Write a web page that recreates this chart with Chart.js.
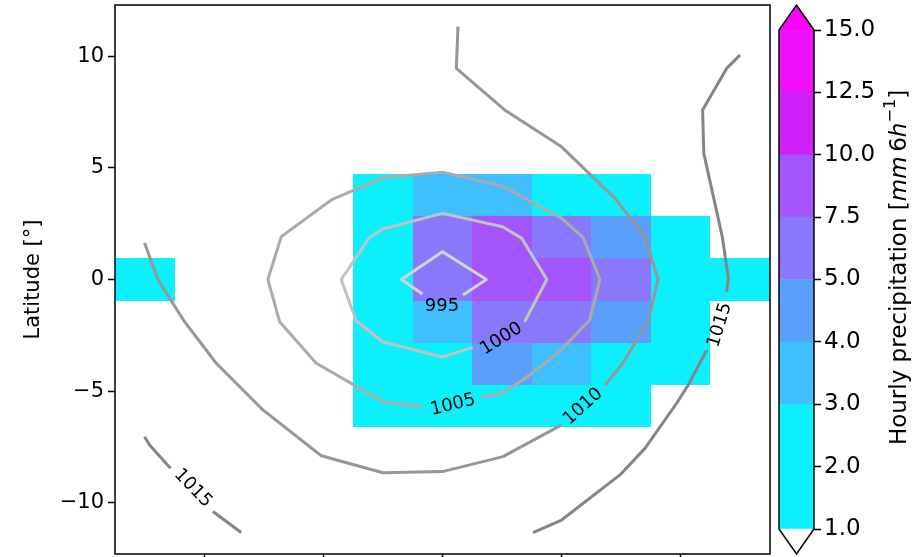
<!DOCTYPE html>
<html>
<head>
<meta charset="utf-8">
<script src="https://cdn.jsdelivr.net/npm/chart.js@4.4.1/dist/chart.umd.min.js"></script>
<style>
  body { margin: 0; background: #fff; }
  #wrap { position: relative; width: 916px; height: 557px; overflow: hidden; }
  #map { position: absolute; left: 0; top: 0; }
  #cbar { position: absolute; left: 770px; top: 0; }
</style>
</head>
<body>
<div id="wrap">
  <canvas id="map" width="916" height="557"></canvas>
  <canvas id="cbar" width="146" height="557"></canvas>
</div>
<script>
// precipitation grid (mm per 6h), cell centres
const lonCenters = [-12.5, -10, -7.5, -5, -2.5, 0, 2.5, 5, 7.5, 10, 12.5];
const latCenters = [3.77, 1.885, 0, -1.885, -3.77, -5.655];
const lonStep = 2.5;
const latStep = 1.885;
const precipRows = [
  [0,   0, 0, 0, 2.2, 3.5, 3.4, 2.6, 1.8, 0,   0  ],
  [0,   0, 0, 0, 2.0, 6.1, 8.3, 6.4, 4.4, 1.9, 0  ],
  [1.6, 0, 0, 0, 2.1, 6.3, 8.8, 8.1, 6.0, 2.3, 1.5],
  [0,   0, 0, 0, 1.9, 3.6, 6.2, 5.9, 4.3, 2.0, 0  ],
  [0,   0, 0, 0, 1.7, 2.2, 4.5, 3.4, 2.4, 1.6, 0  ],
  [0,   0, 0, 0, 1.4, 1.8, 2.1, 1.9, 1.3, 0,   0  ]
];

// colour levels of the precipitation field
const levels = [1, 2, 3, 4, 5, 7.5, 10, 12.5, 15];
const levelColors = ['#0cf0fc', '#0cf0fc', '#3fbffd', '#5a9ffa', '#8a78fb', '#a354fb', '#d021fb', '#ef10fc'];
const overColor = '#ff00ff';

// axis ticks
const lonTicks = [-10, -5, 0, 5, 10];
const latTicks = [-10, -5, 0, 5, 10];

// sea level pressure isobars [lon, lat], split where the labels sit
const isobar995 = [
  [[-0.84, -0.65], [-1.73, 0], [0, 1.24], [1.84, 0], [0.86, -0.69]]
];
const isobar1000 = [
  [[3.45, -1.89], [4.38, 0], [3.33, 1.84], [2.52, 2.36], [0, 2.96], [-2.5, 2.26], [-3.06, 1.89],
   [-4.25, 0], [-3.62, -1.86], [-2.5, -2.8], [0, -3.47], [1.27, -3.04]]
];
const isobar1005 = [
  [[1.63, -5.27], [2.52, -5.07], [3.38, -4.5], [4.84, -3.3], [6.18, -1.81], [6.61, 0], [5.9, 1.89],
   [5.0, 2.74], [2.47, 4.2], [0, 4.8], [-2.46, 4.57], [-4.67, 3.56], [-6.77, 1.92], [-7.33, 0],
   [-6.84, -1.89], [-5.3, -3.75], [-2.5, -5.47], [-0.82, -5.69]]
];
const isobar1010 = [
  [[0.65, 11.32], [0.58, 9.45], [2.61, 7.59], [5.0, 5.94], [7.24, 3.63], [8.5, 1.92], [9.05, 0],
   [8.63, -1.89], [7.52, -3.83], [6.82, -4.72]],
  [[5.0, -6.51], [2.54, -7.93], [0, -8.6], [-2.5, -8.65], [-5.09, -7.89], [-7.54, -5.84],
   [-9.5, -3.75], [-10.83, -1.89], [-11.95, 0], [-12.51, 1.65]]
];
const isobar1015 = [
  [[12.49, 10.05], [11.93, 9.45], [10.92, 7.59], [10.97, 5.65], [11.75, 1.9], [12.0, 0.05], [11.93, -0.55]],
  [[11.09, -3.16], [10.32, -4.72], [9.83, -5.54], [8.5, -7.56], [7.45, -8.75], [5.0, -10.77], [3.8, -11.33]],
  [[-12.51, -7.04], [-12.3, -7.41], [-11.42, -8.45]],
  [[-9.64, -10.39], [-8.45, -11.33]]
];

// inline isobar labels
const labelText = ['995', '1000', '1005', '1010', '1015', '1015'];
const labelLon = [-0.02, 2.47, 0.44, 5.9, 11.65, -10.48];
const labelLat = [-1.21, -2.66, -5.62, -5.69, -2.04, -9.35];
const labelAngle = [0, -32, -14, -42, -73, 46];

const FONT = 'DejaVu Sans';
const tickFont = { family: FONT, size: 21 };
const cbarFont = { family: FONT, size: 23 };

const isobars = [
  { pieces: isobar995,  color: '#d3d3d3' },
  { pieces: isobar1000, color: '#c2c2c2' },
  { pieces: isobar1005, color: '#ababab' },
  { pieces: isobar1010, color: '#979797' },
  { pieces: isobar1015, color: '#858585' }
];

function colorFor(v) {
  if (v < levels[0]) return null;
  if (v >= levels[levels.length - 1]) return overColor;
  let i = 0;
  while (v >= levels[i + 1]) i++;
  return levelColors[i];
}

const precipCells = {
  id: 'precipCells',
  beforeDatasetsDraw(chart) {
    const { ctx, chartArea: a, scales: { x, y } } = chart;
    ctx.save();
    ctx.beginPath();
    ctx.rect(a.left, a.top, a.right - a.left, a.bottom - a.top);
    ctx.clip();
    latCenters.forEach((lat, r) => {
      lonCenters.forEach((lon, c) => {
        const col = colorFor(precipRows[r][c]);
        if (!col) return;
        const x0 = Math.round(x.getPixelForValue(lon - lonStep / 2));
        const x1 = Math.round(x.getPixelForValue(lon + lonStep / 2));
        const y0 = Math.round(y.getPixelForValue(lat + latStep / 2));
        const y1 = Math.round(y.getPixelForValue(lat - latStep / 2));
        ctx.fillStyle = col;
        ctx.fillRect(x0, y0, x1 - x0, y1 - y0);
      });
    });
    ctx.restore();
  }
};

const isobarLabels = {
  id: 'isobarLabels',
  afterDatasetsDraw(chart) {
    const { ctx, scales: { x, y } } = chart;
    ctx.save();
    ctx.font = '18px "' + FONT + '"';
    ctx.fillStyle = '#000';
    ctx.textAlign = 'center';
    ctx.textBaseline = 'middle';
    labelText.forEach((t, i) => {
      ctx.save();
      ctx.translate(x.getPixelForValue(labelLon[i]), y.getPixelForValue(labelLat[i]));
      ctx.rotate(labelAngle[i] * Math.PI / 180);
      ctx.fillText(t, 0, 0);
      ctx.restore();
    });
    ctx.restore();
  }
};

const frame = {
  id: 'frame',
  afterDraw(chart) {
    const { ctx, chartArea: a } = chart;
    ctx.save();
    ctx.strokeStyle = '#000';
    ctx.lineWidth = 1.5;
    ctx.strokeRect(a.left, a.top, a.right - a.left, a.bottom - a.top);
    ctx.restore();
  }
};

const datasets = [];
isobars.forEach(b => b.pieces.forEach(p => datasets.push({
  data: p.map(([lon, lat]) => ({ x: lon, y: lat })),
  showLine: true,
  borderColor: b.color,
  borderWidth: 3,
  borderJoinStyle: 'round',
  borderCapStyle: 'butt',
  pointRadius: 0,
  tension: 0,
  fill: false
})));

const minus = v => (v < 0 ? '\u2212' + Math.abs(v) : String(v));

new Chart(document.getElementById('map'), {
  type: 'scatter',
  data: { datasets },
  options: {
    responsive: false,
    animation: false,
    events: [],
    layout: { padding: { left: 0, top: 5, right: 146, bottom: 0 } },
    plugins: { legend: { display: false }, tooltip: { enabled: false } },
    scales: {
      x: {
        type: 'linear', min: -13.75, max: 13.75,
        afterBuildTicks: s => { s.ticks = lonTicks.map(v => ({ value: v })); },
        afterFit: s => { s.height = 3; s.paddingLeft = 0; s.paddingRight = 0; },
        ticks: { callback: () => '', font: tickFont },
        grid: { drawOnChartArea: false, tickLength: 7, tickWidth: 1.5, tickColor: '#000' },
        border: { display: false }
      },
      y: {
        type: 'linear', min: -12.29, max: 12.29,
        afterBuildTicks: s => { s.ticks = latTicks.map(v => ({ value: v })); },
        afterFit: s => { s.width = 115; s.paddingTop = 0; s.paddingBottom = 0; },
        ticks: { callback: v => minus(v), font: tickFont, color: '#000', padding: 4 },
        grid: { drawOnChartArea: false, tickLength: 7, tickWidth: 1.5, tickColor: '#000' },
        border: { display: false },
        title: { display: true, text: 'Latitude [\u00b0]', font: tickFont, color: '#000', padding: { top: 21 } }
      }
    }
  },
  plugins: [precipCells, isobarLabels, frame]
});

// colour bar: one floating bar segment per level interval
const colorbarShape = {
  id: 'colorbarShape',
  afterDatasetsDraw(chart) {
    const { ctx, chartArea: a } = chart;
    const ext = 0.05 * (a.bottom - a.top);
    const mid = (a.left + a.right) / 2;
    ctx.save();
    ctx.fillStyle = overColor;
    ctx.beginPath();
    ctx.moveTo(a.left, a.top); ctx.lineTo(mid, a.top - ext); ctx.lineTo(a.right, a.top);
    ctx.closePath(); ctx.fill();
    ctx.beginPath();
    ctx.moveTo(a.left, a.top); ctx.lineTo(mid, a.top - ext); ctx.lineTo(a.right, a.top);
    ctx.lineTo(a.right, a.bottom); ctx.lineTo(mid, a.bottom + ext); ctx.lineTo(a.left, a.bottom);
    ctx.closePath();
    ctx.strokeStyle = '#000';
    ctx.lineWidth = 1.5;
    ctx.lineJoin = 'miter';
    ctx.stroke();
    ctx.restore();
  },
  afterDraw(chart) {
    const { ctx, chartArea: a } = chart;
    const size = cbarFont.size;
    const plain = size + 'px "' + FONT + '"';
    const italic = 'italic ' + plain;
    const parts = [
      { t: 'Hourly precipitation [', f: plain, dy: 0 },
      { t: 'mm', f: italic, dy: 0 },
      { t: '\u2009', f: plain, dy: 0 },
      { t: '6', f: plain, dy: 0 },
      { t: 'h', f: italic, dy: 0 },
      { t: '\u22121', f: (size * 0.7) + 'px "' + FONT + '"', dy: -0.42 * size },
      { t: ']', f: plain, dy: 0 }
    ];
    ctx.save();
    let total = 0;
    parts.forEach(p => { ctx.font = p.f; p.w = ctx.measureText(p.t).width; total += p.w; });
    ctx.translate(130, (a.top + a.bottom) / 2 - 12);
    ctx.rotate(-Math.PI / 2);
    ctx.fillStyle = '#000';
    ctx.textBaseline = 'middle';
    ctx.textAlign = 'left';
    let cx = -total / 2;
    parts.forEach(p => { ctx.font = p.f; ctx.fillText(p.t, cx, p.dy); cx += p.w; });
    ctx.restore();
  }
};

new Chart(document.getElementById('cbar'), {
  type: 'bar',
  data: {
    labels: [''],
    datasets: levelColors.map((c, i) => ({
      data: [[i, i + 1]],
      backgroundColor: c,
      borderWidth: 0,
      barPercentage: 1,
      categoryPercentage: 1,
      grouped: false
    }))
  },
  options: {
    responsive: false,
    animation: false,
    events: [],
    layout: { padding: { left: 9, top: 30, right: 0, bottom: 28 } },
    plugins: { legend: { display: false }, tooltip: { enabled: false } },
    scales: {
      x: { display: false },
      y: {
        position: 'right', min: 0, max: levelColors.length,
        afterBuildTicks: s => { s.ticks = levels.map((v, i) => ({ value: i })); },
        afterFit: s => { s.width = 102; s.paddingTop = 0; s.paddingBottom = 0; },
        ticks: { callback: v => levels[v].toFixed(1), font: cbarFont, color: '#000', padding: 3 },
        grid: { drawOnChartArea: false, tickLength: 7, tickWidth: 1.5, tickColor: '#000' },
        border: { display: false }
      }
    }
  },
  plugins: [colorbarShape]
});
</script>
</body>
</html>
